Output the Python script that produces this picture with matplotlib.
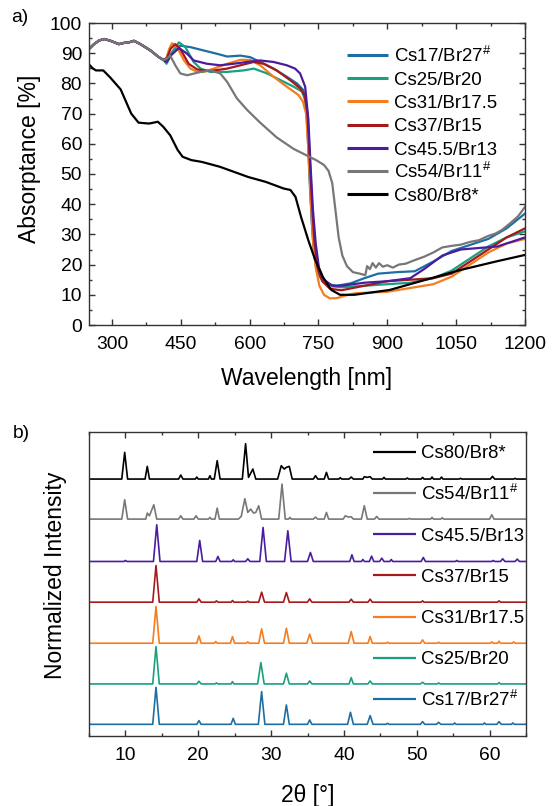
import matplotlib
matplotlib.use('Agg')
import matplotlib.pyplot as plt
from matplotlib.ticker import MultipleLocator

plt.rcParams['font.family'] = ['Liberation Sans', 'DejaVu Sans']
plt.rcParams['mathtext.default'] = 'regular'
plt.rcParams['font.size'] = 14

# ---- panel a: absorptance spectra (wavelength nm, absorptance %)
common = [(250, 91.4), (261, 93), (272, 94.2), (283, 94.7), (297, 94.1), (315, 93), (326, 93.4),
          (337, 93.6), (348, 94.1), (362, 93), (384, 90.9), (402, 88.7), (412, 87.8)]

cs17_abs = common + [(420, 87.1), (428, 89.5), (435, 91.1), (449, 92.5), (471, 92), (500, 90.9), (529, 89.8),
                     (551, 88.9), (580, 89.2), (601, 88.7), (623, 87.1), (652, 84.9), (681, 82.2), (703, 80),
                     (717, 77.8), (722, 74), (726, 65), (730, 50), (735, 35), (740, 24), (746, 18), (755, 15.5),
                     (770, 13.5), (790, 13), (820, 13.8), (850, 15.5), (880, 17), (920, 17.5), (960, 17.8),
                     (1000, 21), (1040, 24.5), (1080, 26.5), (1120, 28.5), (1160, 32), (1200, 36.9)]
cs25_abs = common + [(419, 86.5), (430, 90), (446, 93.6), (460, 92), (478, 87.1), (493, 84.9), (514, 83.8),
                     (551, 83.8), (587, 84.3), (609, 84.9), (638, 83.3), (667, 81.1), (696, 78.9), (714, 77.3),
                     (722, 74), (727, 66), (731, 50), (736, 35), (741, 25), (748, 19), (760, 15), (780, 12.8),
                     (800, 12.5), (850, 13), (900, 13.5), (950, 14), (1000, 15.5), (1040, 18), (1080, 22),
                     (1120, 26), (1160, 29), (1200, 31)]
cs31_abs = common + [(418, 88), (425, 91.5), (431, 93.3), (442, 92), (457, 87.6), (471, 84.9), (486, 83.8),
                     (500, 83.8), (522, 84.9), (551, 86.5), (580, 87.8), (601, 87.8), (623, 86), (652, 82.2),
                     (681, 78.9), (706, 76.2), (716, 74), (723, 70), (728, 58), (733, 42), (738, 28), (744, 19),
                     (752, 13), (762, 10), (775, 8.8), (790, 8.9), (810, 9.8), (830, 10.5), (900, 11),
                     (1000, 13.5), (1040, 16), (1080, 20), (1120, 24), (1160, 27), (1200, 28.5)]
cs37_abs = common + [(420, 88.5), (428, 91.5), (438, 93), (449, 91.4), (467, 86.5), (486, 84.6), (514, 84.1),
                     (551, 84.9), (580, 86), (609, 87.1), (631, 86.5), (659, 84.3), (688, 81.1), (710, 78.4),
                     (720, 76), (726, 70), (731, 55), (736, 40), (741, 28), (748, 19), (758, 14.5), (775, 12),
                     (800, 11.5), (850, 13), (900, 14.5), (950, 15), (1000, 15.5), (1040, 17), (1080, 21),
                     (1120, 25), (1160, 29), (1200, 32)]
cs455_abs = common + [(419, 87.1), (430, 89.5), (446, 91.7), (464, 89.8), (478, 87.6), (507, 86.5), (536, 86),
                      (565, 86.5), (594, 87.1), (623, 87.6), (652, 87.1), (681, 86), (699, 84.9), (710, 83.3),
                      (721, 78.9), (728, 68), (733, 52), (738, 38), (744, 27), (751, 19), (762, 15), (780, 13),
                      (800, 13), (850, 14), (900, 14.5), (950, 15.5), (980, 18.5), (1020, 23), (1060, 25),
                      (1100, 25.5), (1140, 26), (1170, 27.5), (1200, 29)]
cs54_abs = common + [(418, 88), (427, 89.2), (438, 86), (449, 83.3), (464, 82.7), (493, 83.8), (514, 84.3),
                     (536, 83.3), (551, 80.5), (572, 75.1), (594, 71.3), (623, 67), (659, 62.1), (696, 58.3),
                     (725, 56.1), (746, 54.5), (762, 53), (772, 51), (780, 47), (787, 38), (794, 29), (802, 23),
                     (812, 19.5), (825, 17.5), (840, 17), (852, 16.5), (856, 19.5), (862, 18.5), (868, 20.5),
                     (875, 19), (882, 20.5), (890, 19.3), (900, 19.8), (912, 19), (925, 20), (940, 20.3),
                     (960, 21.5), (980, 22.6), (1000, 24), (1020, 25.7), (1040, 26.2), (1060, 26.6), (1080, 27.5),
                     (1100, 28.1), (1120, 29.5), (1136, 30.3), (1150, 31.5), (1167, 33.6), (1185, 36), (1200, 39.1)]
cs80_abs = [(250, 86.3), (258, 85), (265, 84.3), (281, 84.3), (296, 82), (319, 78), (342, 70), (358, 67),
            (381, 66.7), (400, 67.3), (412, 65.6), (427, 62.8), (443, 58), (454, 55.7), (473, 54.6), (496, 54),
            (535, 52.4), (597, 49), (635, 47.4), (674, 45.2), (689, 44.7), (700, 42.4), (712, 35.8), (728, 28),
            (743, 21.5), (759, 16), (778, 11.6), (797, 10), (828, 10), (905, 11.6), (982, 14.9), (1059, 18.2),
            (1136, 21), (1200, 23.2)]

# ---- panel b: XRD patterns (2theta, normalized intensity above baseline)
cs17_xrd = [(5, 0), (13.75, 0), (14.2, 1.11), (14.65, 0), (19.8, 0), (20.1, 0.11), (20.4, 0), (24.5, 0), (24.8, 0.18),
            (25.1, 0), (28.25, 0), (28.7, 0.98), (29.15, 0), (31.7, 0), (32.1, 0.58), (32.5, 0), (35.0, 0), (35.3, 0.13),
            (35.6, 0), (40.5, 0), (40.9, 0.36), (41.3, 0), (43.2, 0), (43.6, 0.26), (44.0, 0), (45.8, 0), (46.0, 0.03),
            (46.2, 0), (50.5, 0), (50.8, 0.08), (51.1, 0), (52.7, 0), (53.0, 0.06), (53.3, 0), (55.0, 0), (55.2, 0.04),
            (55.4, 0), (59.1, 0), (59.3, 0.04), (59.5, 0), (61.0, 0), (61.3, 0.08), (61.6, 0), (63.0, 0), (63.2, 0.04),
            (63.4, 0), (65, 0)]
cs25_xrd = [(5, 0), (13.75, 0), (14.2, 1.12), (14.65, 0), (19.8, 0), (20.1, 0.08), (20.4, 0), (22.3, 0), (22.5, 0.03),
            (22.7, 0), (24.5, 0), (24.7, 0.07), (24.9, 0), (28.15, 0), (28.6, 0.64), (29.05, 0), (31.7, 0), (32.1, 0.32),
            (32.5, 0), (35.0, 0), (35.3, 0.09), (35.6, 0), (40.7, 0), (41.0, 0.19), (41.3, 0), (43.3, 0), (43.6, 0.09),
            (43.9, 0), (50.5, 0), (50.8, 0.05), (51.1, 0), (52.8, 0), (53.0, 0.03), (53.2, 0), (61.1, 0), (61.3, 0.04),
            (61.5, 0), (65, 0)]
cs31_xrd = [(5, 0), (13.75, 0), (14.2, 1.10), (14.65, 0), (19.8, 0), (20.1, 0.22), (20.4, 0), (22.2, 0), (22.4, 0.05),
            (22.6, 0), (24.4, 0), (24.7, 0.2), (25.0, 0), (26.6, 0), (26.8, 0.04), (27.0, 0), (28.3, 0), (28.7, 0.43),
            (29.1, 0), (31.7, 0), (32.1, 0.45), (32.5, 0), (34.9, 0), (35.3, 0.27), (35.7, 0), (40.6, 0), (41.0, 0.35),
            (41.4, 0), (43.3, 0), (43.6, 0.2), (43.9, 0), (45.8, 0), (46.0, 0.03), (46.2, 0), (50.5, 0), (50.8, 0.1),
            (51.1, 0), (52.8, 0), (53.0, 0.03), (53.2, 0), (60.1, 0), (60.3, 0.04), (60.5, 0), (61.1, 0), (61.3, 0.06),
            (61.5, 0), (63.1, 0), (63.3, 0.04), (63.5, 0), (65, 0)]
cs37_xrd = [(5, 0), (13.75, 0), (14.2, 1.10), (14.65, 0), (19.8, 0), (20.1, 0.1), (20.4, 0), (22.3, 0), (22.5, 0.04),
            (22.7, 0), (24.5, 0), (24.7, 0.05), (24.9, 0), (26.6, 0), (26.8, 0.03), (27.0, 0), (28.3, 0), (28.7, 0.3),
            (29.1, 0), (31.7, 0), (32.1, 0.29), (32.5, 0), (35.0, 0), (35.3, 0.1), (35.6, 0), (40.7, 0), (41.0, 0.09),
            (41.3, 0), (43.3, 0), (43.6, 0.09), (43.9, 0), (50.6, 0), (50.8, 0.04), (51.0, 0), (61.1, 0), (61.3, 0.04),
            (61.5, 0), (65, 0)]
cs455_xrd = [(5, 0), (9.8, 0), (10.0, 0.03), (10.2, 0), (13.85, 0), (14.3, 1.10), (14.75, 0), (19.8, 0), (20.2, 0.63),
             (20.6, 0), (22.4, 0), (22.7, 0.15), (23.0, 0), (24.6, 0), (24.8, 0.05), (25.0, 0), (26.5, 0), (26.8, 0.08),
             (27.1, 0), (28.45, 0), (28.9, 1.02), (29.35, 0), (31.85, 0), (32.3, 0.92), (32.75, 0), (35.0, 0),
             (35.4, 0.27), (35.8, 0), (40.8, 0), (41.1, 0.2), (41.4, 0), (42.4, 0), (42.6, 0.06), (42.8, 0), (43.5, 0),
             (43.8, 0.16), (44.1, 0), (44.9, 0), (45.2, 0.1), (45.5, 0), (46.3, 0), (46.5, 0.06), (46.7, 0), (50.6, 0),
             (50.9, 0.12), (51.2, 0), (55.3, 0), (55.5, 0.03), (55.7, 0), (60.3, 0), (60.5, 0.03), (60.7, 0),
             (61.5, 0), (61.8, 0.08), (62.1, 0), (63.5, 0), (63.8, 0.07), (64.1, 0), (65, 0)]
cs54_xrd = [(5, 0), (9.5, 0), (9.9, 0.58), (10.3, 0), (12.8, 0), (13.0, 0.18), (13.3, 0.1), (13.9, 0.43), (14.3, 0),
            (17.3, 0), (17.6, 0.1), (17.9, 0), (19.4, 0), (19.7, 0.1), (20.0, 0), (21.4, 0), (21.6, 0.05), (21.8, 0),
            (22.3, 0), (22.6, 0.33), (22.9, 0), (25.5, 0), (25.9, 0.08), (26.4, 0.61), (26.8, 0.2), (27.2, 0.3),
            (27.6, 0.18), (27.9, 0.2), (28.3, 0.4), (28.7, 0), (31.05, 0), (31.5, 1.05), (31.95, 0), (32.4, 0),
            (32.6, 0.05), (32.8, 0), (35.8, 0), (36.1, 0.06), (36.4, 0), (37.3, 0), (37.6, 0.2), (37.9, 0), (39.9, 0),
            (40.2, 0.1), (40.6, 0.06), (41.0, 0.07), (41.3, 0), (42.4, 0), (42.8, 0.4), (43.2, 0), (44.2, 0),
            (44.5, 0.08), (44.8, 0), (48.8, 0), (49.0, 0.02), (49.2, 0), (51.9, 0), (52.1, 0.05), (52.3, 0), (53.3, 0),
            (53.5, 0.04), (53.7, 0), (60.0, 0), (60.3, 0.13), (60.6, 0), (65, 0)]
cs80_xrd = [(5, 0), (9.5, 0), (9.9, 0.8), (10.3, 0), (12.7, 0), (13.0, 0.38), (13.3, 0), (17.3, 0), (17.6, 0.12),
            (17.9, 0), (19.6, 0), (19.8, 0.06), (20.0, 0), (21.4, 0), (21.6, 0.1), (21.8, 0), (22.2, 0), (22.6, 0.55),
            (23.0, 0), (26.05, 0), (26.5, 1.06), (26.9, 0.05), (27.5, 0.3), (27.9, 0), (30.9, 0), (31.4, 0.4),
            (31.8, 0.3), (32.1, 0.35), (32.5, 0.38), (32.9, 0), (35.8, 0), (36.1, 0.1), (36.4, 0), (37.3, 0),
            (37.6, 0.2), (37.9, 0), (39.3, 0), (39.5, 0.04), (39.7, 0), (40.7, 0), (41.0, 0.06), (41.3, 0), (42.6, 0),
            (42.8, 0.07), (43.2, 0.05), (43.6, 0.07), (43.9, 0), (45.3, 0), (45.5, 0.05), (45.7, 0), (48.5, 0),
            (48.7, 0.03), (48.9, 0), (50.6, 0), (50.8, 0.05), (51.0, 0), (51.9, 0), (52.1, 0.06), (52.3, 0), (53.2, 0),
            (53.4, 0.06), (53.6, 0), (55.8, 0), (56.0, 0.02), (56.2, 0), (60.1, 0), (60.4, 0.08), (60.7, 0),
            (63.3, 0), (63.5, 0.02), (63.7, 0), (65, 0)]

labels = ['Cs17/Br27$^{\\#}$', 'Cs25/Br20', 'Cs31/Br17.5', 'Cs37/Br15',
          'Cs45.5/Br13', 'Cs54/Br11$^{\\#}$', 'Cs80/Br8*']
colors = ['#1d6fa3', '#19a07f', '#f57c1f', '#a6191b', '#4b1c9e', '#777777', '#000000']
abs_data = [cs17_abs, cs25_abs, cs31_abs, cs37_abs, cs455_abs, cs54_abs, cs80_abs]
xrd_data = [cs17_xrd, cs25_xrd, cs31_xrd, cs37_xrd, cs455_xrd, cs54_xrd, cs80_xrd]
xrd_offsets = [0.35, 1.56, 2.78, 4.01, 5.23, 6.50, 7.70]

W, H = 555, 806
fig = plt.figure(figsize=(W / 100, H / 100), dpi=100)
renderer = fig.canvas.get_renderer()


def fit_size(text, width_px, base=14):
    # font size that gives the text the width it has in the reference
    t = fig.text(0, 0, text, fontsize=base)
    w = t.get_window_extent(renderer).width
    t.remove()
    return base * width_px / w


tick_fs = fit_size('1200', 43)
label_fs = fit_size('Wavelength [nm]', 172)
leg_fs = fit_size('Cs31/Br17.5', 104)

# axes boxes in pixels (left, top, right, bottom)
box_a = (89, 23, 525, 325)
box_b = (89, 432, 526, 736)


def add_axes_px(b):
    return fig.add_axes([b[0] / W, 1 - b[3] / H, (b[2] - b[0]) / W, (b[3] - b[1]) / H])


ax1 = add_axes_px(box_a)
ax2 = add_axes_px(box_b)

spine_col = '#333333'


def manual_legend(ax, box, entries, row_y, x_line, x_text, lw):
    # entries drawn as short line + label, rows placed at pixel heights of the reference
    h = box[3] - box[1]
    w = box[2] - box[0]
    fs_px = leg_fs * 100 / 72
    for (lab, col), y in zip(entries, row_y):
        fy = (box[3] - y) / h
        ax.plot([(x_line[0] - box[0]) / w, (x_line[1] - box[0]) / w], [fy, fy], color=col, lw=lw,
                transform=ax.transAxes, clip_on=False, solid_capstyle='butt')
        ax.text((x_text - box[0]) / w, fy - 0.36 * fs_px / h, lab, transform=ax.transAxes,
                fontsize=leg_fs, va='baseline', ha='left')


# panel a
for d, c, lab in zip(abs_data, colors, labels):
    ax1.plot([p[0] for p in d], [p[1] for p in d], color=c, lw=1.6, label=lab)
ax1.set_xlim(250, 1200)
ax1.set_ylim(0, 100)
ax1.set_xticks([300, 450, 600, 750, 900, 1050, 1200])
ax1.xaxis.set_minor_locator(MultipleLocator(75))
ax1.yaxis.set_major_locator(MultipleLocator(10))
ax1.yaxis.set_minor_locator(MultipleLocator(5))
ax1.set_xlabel('Wavelength [nm]', fontsize=label_fs, labelpad=10)
ax1.set_ylabel('Absorptance [%]', fontsize=label_fs)
ax1.yaxis.set_label_coords(-0.11, 0.55)
manual_legend(ax1, box_a, list(zip(labels, colors)), [55 + i * 23.2 for i in range(7)], (347, 388), 394, 2.2)
fig.text(20 / W, 1 - 17 / H, 'a)', fontsize=tick_fs, va='center', ha='center')

# panel b
for d, off, c, lab in zip(xrd_data, xrd_offsets, colors, labels):
    ax2.plot([p[0] for p in d], [p[1] + off for p in d], color=c, lw=1.2, label=lab)
ax2.set_xlim(5, 65)
ax2.set_ylim(0, 9.11)
ax2.xaxis.set_major_locator(MultipleLocator(10))
ax2.xaxis.set_minor_locator(MultipleLocator(5))
ax2.set_yticks([])
ax2.set_xlabel('2θ [°]', fontsize=label_fs, labelpad=14)
ax2.set_ylabel('Normalized Intensity', fontsize=label_fs)
ax2.yaxis.set_label_coords(-0.05, 0.53)
manual_legend(ax2, box_b, list(zip(labels[::-1], colors[::-1])), [451.7 + i * 41.2 for i in range(7)],
              (373, 416), 421, 1.6)
fig.text(21 / W, 1 - 433 / H, 'b)', fontsize=tick_fs, va='center', ha='center')

for ax in (ax1, ax2):
    for s in ax.spines.values():
        s.set_color(spine_col)
        s.set_linewidth(1.0)
    ax.tick_params(which='both', direction='in', top=True, right=(ax is ax1), color=spine_col, labelsize=tick_fs)
    ax.tick_params(which='major', length=4, width=1.0)
    ax.tick_params(which='minor', length=2, width=1.0)
    ax.tick_params(axis='x', which='both', pad=8)
ax1.tick_params(axis='y', which='both', pad=5)
ax2.tick_params(axis='y', which='both', left=False, right=False)

fig.savefig('out.png', dpi=100)
